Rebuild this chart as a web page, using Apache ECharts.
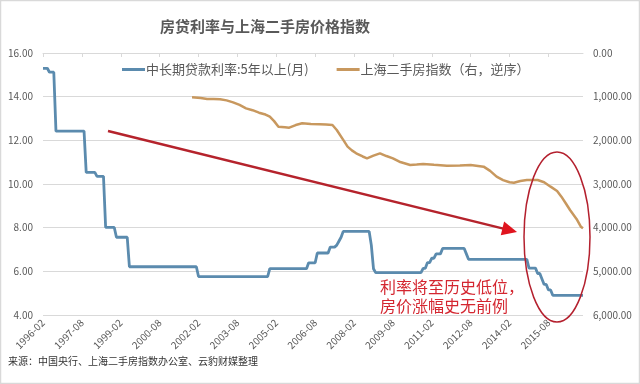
<!DOCTYPE html>
<html><head><meta charset="utf-8">
<script src="https://cdn.jsdelivr.net/npm/echarts@6/dist/echarts.min.js"></script>
<style>html,body{margin:0;padding:0;background:#fff}#c{width:640px;height:384px}</style>
</head><body><div id="c"></div>
<script>
const chartTitle = '房贷利率与上海二手房价格指数';
const seriesNames = ['中长期贷款利率:5年以上(月)', '上海二手房指数（右，逆序）'];
const sourceText = '来源：中国央行、上海二手房指数办公室、云豹财媒整理';
const noteLines = ['利率将至历史低位，', '房价涨幅史无前例'];

// monthly categories 1996-02 .. 2016-12
const categories = [];
for (let y = 1996; y <= 2016; y++) {
  for (let m = 1; m <= 12; m++) {
    if (y === 1996 && m < 2) continue;
    categories.push(y + '-' + String(m).padStart(2, '0'));
  }
}

// 5yr+ lending rate, monthly (1996-02 .. 2016-12)
const rateValues = [
  15.30,15.30,15.30,15.12,15.12,15.12,12.42,12.42,12.42,12.42,12.42,
  12.42,12.42,12.42,12.42,12.42,12.42,12.42,12.42,12.42,10.53,10.53,10.53,
  10.53,10.53,10.35,10.35,10.35,10.35,8.01,8.01,8.01,8.01,8.01,7.56,
  7.56,7.56,7.56,7.56,7.56,6.21,6.21,6.21,6.21,6.21,6.21,6.21,
  6.21,6.21,6.21,6.21,6.21,6.21,6.21,6.21,6.21,6.21,6.21,6.21,
  6.21,6.21,6.21,6.21,6.21,6.21,6.21,6.21,6.21,6.21,6.21,6.21,
  6.21,5.76,5.76,5.76,5.76,5.76,5.76,5.76,5.76,5.76,5.76,5.76,
  5.76,5.76,5.76,5.76,5.76,5.76,5.76,5.76,5.76,5.76,5.76,5.76,
  5.76,5.76,5.76,5.76,5.76,5.76,5.76,5.76,5.76,5.76,6.12,6.12,
  6.12,6.12,6.12,6.12,6.12,6.12,6.12,6.12,6.12,6.12,6.12,6.12,
  6.12,6.12,6.12,6.12,6.39,6.39,6.39,6.39,6.84,6.84,6.84,6.84,
  6.84,6.84,7.11,7.11,7.11,7.20,7.38,7.56,7.83,7.83,7.83,7.83,
  7.83,7.83,7.83,7.83,7.83,7.83,7.83,7.83,7.83,7.20,6.12,5.94,
  5.94,5.94,5.94,5.94,5.94,5.94,5.94,5.94,5.94,5.94,5.94,5.94,
  5.94,5.94,5.94,5.94,5.94,5.94,5.94,5.94,5.94,6.14,6.14,6.40,
  6.40,6.60,6.60,6.80,6.80,6.80,7.05,7.05,7.05,7.05,7.05,7.05,
  7.05,7.05,7.05,7.05,7.05,6.80,6.55,6.55,6.55,6.55,6.55,6.55,
  6.55,6.55,6.55,6.55,6.55,6.55,6.55,6.55,6.55,6.55,6.55,6.55,
  6.55,6.55,6.55,6.55,6.55,6.55,6.55,6.55,6.55,6.55,6.15,6.15,
  6.15,6.15,5.90,5.90,5.65,5.40,5.40,5.15,5.15,4.90,4.90,4.90,
  4.90,4.90,4.90,4.90,4.90,4.90,4.90,4.90,4.90,4.90,4.90,4.90
];

// Shanghai second-hand housing index (right axis, inverted)
const indexDates = ['2001-11','2002-03','2002-06','2002-09','2002-12','2003-03','2003-06','2003-09','2003-12','2004-03','2004-06','2004-09','2004-11','2005-01','2005-03','2005-06','2005-08','2005-11','2006-02','2006-06','2006-10','2007-01','2007-04','2007-06','2007-09','2007-11','2008-01','2008-03','2008-06','2008-08','2008-11','2009-02','2009-05','2009-08','2009-11','2010-04','2010-07','2010-10','2011-03','2011-09','2012-03','2012-08','2013-02','2013-05','2013-08','2013-11','2014-02','2014-04','2014-07','2014-10','2015-03','2015-06','2015-09','2015-12','2016-02','2016-04','2016-06','2016-09','2016-11','2016-12'];
const indexValues = [1015,1030,1053,1055,1061,1085,1130,1190,1267,1310,1367,1410,1458,1560,1687,1700,1710,1650,1610,1625,1633,1640,1649,1763,1990,2145,2230,2297,2370,2412,2350,2297,2360,2412,2490,2565,2555,2542,2560,2580,2575,2565,2603,2700,2832,2910,2960,2970,2930,2908,2908,2960,3061,3160,3290,3440,3595,3800,3977,4015];

const leftAxis = {min: 4, max: 16, interval: 2};
const rightAxis = {min: 0, max: 6000, interval: 1000};

const FONT = '"Noto Sans CJK SC", "Noto Sans", sans-serif';
const GRAY = '#595959';
const BLUE = '#5b8bae';
const ORANGE = '#c8985e';
const RED = '#b5232c';

const chart = echarts.init(document.getElementById('c'), null, {renderer: 'canvas'});

function fmtNum(v) {
  return v.toFixed(2).replace(/\B(?=(\d{3})+(?!\d))/g, ',');
}

// arrow geometry (decorative annotation)
const ax0 = 108, ay0 = 131, ax1 = 517, ay1 = 232;
const dl = Math.hypot(ax1 - ax0, ay1 - ay0), ux = (ax1 - ax0) / dl, uy = (ay1 - ay0) / dl;
const headL = 15, headW = 7;
const bx = ax1 - ux * headL, by = ay1 - uy * headL;

chart.setOption({
  animation: false,
  backgroundColor: '#fff',
  textStyle: {fontFamily: FONT},
  title: {
    text: chartTitle, left: 160, top: 19, padding: 0,
    textStyle: {fontSize: 15, fontWeight: 'bold', color: GRAY, fontFamily: FONT}
  },
  legend: {
    top: 63, left: 122, padding: 0, itemGap: 28,
    icon: 'rect', itemWidth: 23, itemHeight: 3,
    textStyle: {fontSize: 13, color: GRAY, fontFamily: FONT, padding: [0, 0, 0, -4]},
    data: seriesNames
  },
  grid: {left: 43, right: 57, top: 53, bottom: 69, containLabel: false},
  xAxis: {
    type: 'category', data: categories, boundaryGap: false,
    axisLine: {lineStyle: {color: '#d9d9d9', width: 1}},
    axisTick: {show: true, interval: 17, length: 4, lineStyle: {color: '#d9d9d9'}},
    axisLabel: {interval: 17, rotate: 45, fontSize: 10, color: GRAY, margin: 6, fontFamily: FONT},
    splitLine: {show: false}
  },
  yAxis: [
    {
      type: 'value', min: leftAxis.min, max: leftAxis.max, interval: leftAxis.interval,
      axisLine: {show: false}, axisTick: {show: false},
      axisLabel: {fontSize: 10, color: GRAY, margin: 10, formatter: v => v.toFixed(2), fontFamily: FONT},
      splitLine: {lineStyle: {color: '#d9d9d9', width: 1}}
    },
    {
      type: 'value', inverse: true, min: rightAxis.min, max: rightAxis.max, interval: rightAxis.interval,
      axisLine: {show: false}, axisTick: {show: false},
      axisLabel: {fontSize: 10, color: GRAY, margin: 10, formatter: fmtNum, fontFamily: FONT},
      splitLine: {show: false}
    }
  ],
  series: [
    {
      name: seriesNames[0], type: 'line', yAxisIndex: 0, data: rateValues,
      showSymbol: false, symbol: 'none', lineStyle: {color: BLUE, width: 2.8}, itemStyle: {color: BLUE}, z: 3
    },
    {
      name: seriesNames[1], type: 'line', yAxisIndex: 1,
      data: indexDates.map((d, i) => [d, indexValues[i]]),
      showSymbol: false, symbol: 'none', lineStyle: {color: ORANGE, width: 2.5}, itemStyle: {color: ORANGE}, z: 3
    }
  ],
  graphic: [
    {type: 'rect', shape: {x: 0.5, y: 0.5, width: 639, height: 383}, style: {fill: 'none', stroke: '#d9d9d9', lineWidth: 1.5}, z: 100},
    {type: 'line', shape: {x1: ax0, y1: ay0, x2: bx + ux * 2, y2: by + uy * 2}, style: {stroke: RED, lineWidth: 2.5}, z: 50},
    {type: 'polygon', shape: {points: [[ax1, ay1], [bx - uy * headW, by + ux * headW], [bx + uy * headW, by - ux * headW]]}, style: {fill: '#e0141e'}, z: 51},
    {type: 'ellipse', shape: {cx: 557, cy: 237, rx: 33, ry: 85}, style: {fill: 'none', stroke: '#b4202e', lineWidth: 1.5}, z: 50},
    {type: 'text', left: 380, top: 279, style: {text: noteLines[0], fontSize: 16, fill: '#d42630', fontFamily: FONT}, z: 50},
    {type: 'text', left: 380, top: 298, style: {text: noteLines[1], fontSize: 16, fill: '#d42630', fontFamily: FONT}, z: 50},
    {type: 'text', left: 8, top: 356, style: {text: sourceText, fontSize: 10, fill: '#333', fontFamily: FONT}, z: 50}
  ]
});
</script></body></html>
